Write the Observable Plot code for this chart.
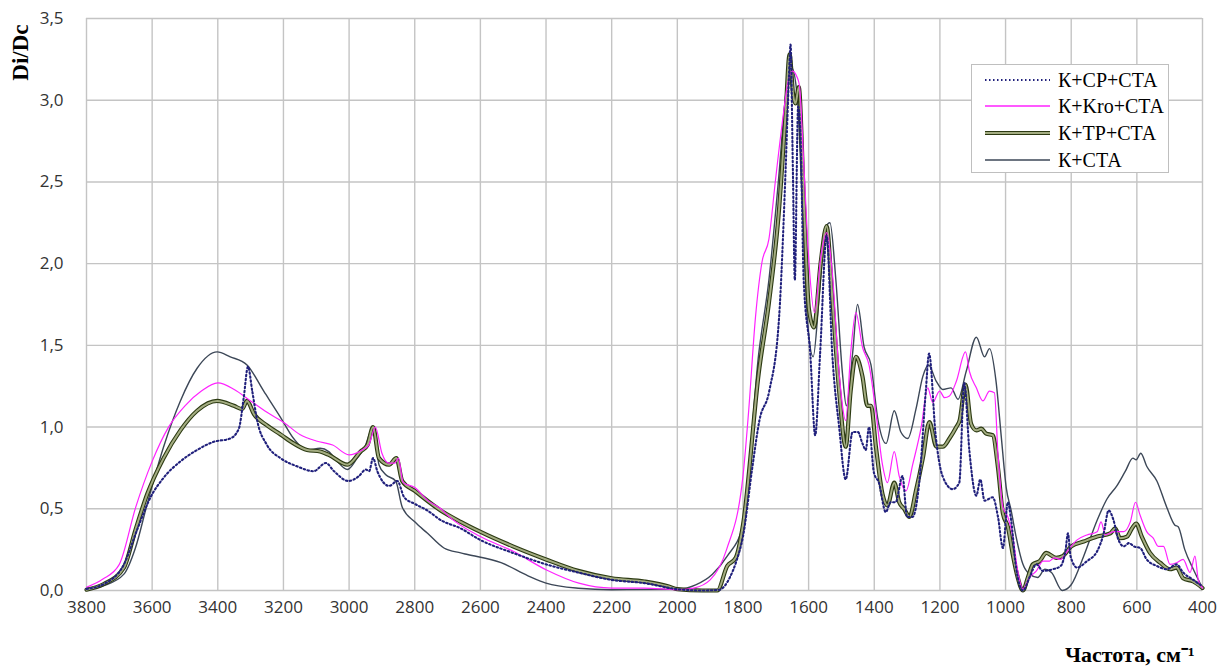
<!DOCTYPE html>
<html><head><meta charset="utf-8">
<script src="https://cdn.jsdelivr.net/npm/d3@7"></script>
<script src="https://cdn.jsdelivr.net/npm/@observablehq/plot@0.6"></script>
<style>
body{margin:0;background:#fff;}
#wrap{position:relative;width:1225px;height:668px;overflow:hidden;}
#legend{position:absolute;left:971px;top:64px;width:198px;height:109px;border:1px solid #bfbfbf;background:#fff;font-family:"Liberation Serif",serif;font-size:20px;color:#000;box-sizing:border-box;}
.row{position:absolute;left:0;height:26px;display:flex;align-items:center;}
.row svg{margin-left:12px;margin-right:7px;}
</style></head><body><div id="wrap"></div>
<script>
// ---- data (wavenumber, cm-1 / Di/Dc) ----
const seriesNames = ["К+СР+СТА", "К+Kro+СТА", "К+ТР+СТА", "К+СТА"];

const cpW = [3800,3747,3686,3646,3605,3565,3514,3463,3412,3362,3336,3321,3308,3295,3280,3250,3209,3159,3108,3071,3046,3002,2970,2949,2939,2927,2914,2878,2853,2832,2800,2762,2720,2660,2601,2501,2400,2302,2200,2100,2000,1924,1873,1840,1820,1800,1771,1750,1720,1690,1670,1660,1655,1648,1642,1632,1625,1615,1595,1580,1565,1545,1528,1507,1487,1466,1450,1436,1426,1416,1401,1386,1365,1350,1335,1314,1300,1284,1263,1243,1233,1213,1192,1161,1141,1126,1110,1089,1077,1064,1039,1023,1008,993,983,968,947,927,906,886,856,832,817,810,802,782,752,721,701,686,671,656,640,624,609,590,570,539,509,479,459,428,400];
const cpV = [0.01,0.04,0.16,0.37,0.57,0.69,0.79,0.86,0.91,0.93,0.99,1.18,1.37,1.22,1.04,0.89,0.81,0.76,0.73,0.78,0.73,0.67,0.70,0.74,0.73,0.81,0.73,0.64,0.67,0.57,0.53,0.49,0.43,0.38,0.31,0.23,0.16,0.11,0.065,0.045,0.008,0,0.004,0.08,0.18,0.33,0.76,1.04,1.22,1.67,2.58,3.14,3.34,2.58,1.9,2.96,2.8,1.9,1.45,0.95,1.45,2.17,1.45,1.0,0.68,0.97,0.97,0.90,0.86,1.0,0.72,0.66,0.48,0.54,0.54,0.70,0.45,0.45,0.66,1.22,1.45,0.95,0.70,0.62,0.66,1.27,0.85,0.58,0.68,0.55,0.57,0.45,0.26,0.54,0.43,0.14,0.0,0.08,0.16,0.12,0.13,0.15,0.25,0.35,0.21,0.14,0.18,0.24,0.35,0.49,0.43,0.31,0.27,0.29,0.27,0.26,0.19,0.15,0.13,0.16,0.11,0.065,0.025];

const kroW = [3800,3750,3700,3650,3600,3550,3500,3450,3400,3350,3300,3250,3200,3150,3100,3050,3000,2960,2940,2920,2900,2880,2860,2850,2835,2800,2760,2720,2700,2600,2500,2400,2300,2200,2100,2000,1950,1900,1850,1800,1783,1762,1742,1721,1701,1681,1662,1650,1635,1628,1614,1599,1582,1563,1545,1528,1507,1487,1472,1456,1436,1416,1395,1375,1360,1339,1324,1303,1283,1257,1237,1222,1201,1186,1171,1150,1122,1110,1089,1069,1049,1034,1023,1008,993,978,963,947,927,906,886,866,852,832,812,782,752,721,709,696,671,640,620,604,590,570,550,535,519,499,479,459,438,423,413,400];
const kroV = [0.02,0.07,0.16,0.51,0.79,1.0,1.13,1.22,1.27,1.23,1.16,1.09,1.03,0.955,0.915,0.89,0.83,0.86,0.89,1.0,0.84,0.78,0.78,0.81,0.66,0.63,0.55,0.50,0.46,0.33,0.24,0.127,0.045,0.015,0.015,0.005,0.015,0.065,0.25,0.70,1.09,1.67,2.01,2.15,2.51,2.85,3.12,3.18,3.14,3.09,2.58,2.01,1.70,2.04,2.19,1.95,1.33,1.04,1.45,1.70,1.49,1.38,1.09,0.77,0.66,0.85,0.70,0.61,0.77,1.0,1.24,1.15,1.22,1.18,1.19,1.28,1.46,1.34,1.24,1.16,1.22,1.21,0.83,0.51,0.45,0.33,0.12,0.01,0.08,0.12,0.18,0.18,0.2,0.19,0.24,0.31,0.34,0.36,0.42,0.34,0.36,0.36,0.42,0.54,0.46,0.36,0.32,0.27,0.27,0.16,0.17,0.19,0.11,0.21,0.065,0.015];

const tpW = [3800,3747,3686,3651,3615,3565,3514,3463,3402,3351,3326,3311,3290,3250,3209,3169,3128,3088,3062,3005,2965,2944,2927,2909,2878,2856,2838,2800,2721,2660,2601,2501,2400,2302,2200,2100,2026,2000,1924,1878,1848,1822,1800,1752,1721,1691,1670,1658,1647,1640,1630,1614,1599,1584,1563,1545,1528,1507,1487,1472,1456,1436,1421,1410,1395,1375,1360,1339,1324,1309,1293,1273,1252,1232,1211,1191,1171,1150,1140,1122,1105,1089,1074,1059,1039,1023,1008,993,978,963,947,932,917,896,876,846,826,800,762,721,681,666,651,630,615,602,585,560,529,499,479,459,428,400];
const tpV = [0.005,0.04,0.14,0.37,0.59,0.81,0.98,1.1,1.16,1.13,1.11,1.16,1.08,1.01,0.955,0.90,0.86,0.85,0.83,0.77,0.85,0.89,1.0,0.81,0.77,0.81,0.67,0.61,0.49,0.42,0.36,0.27,0.19,0.12,0.075,0.055,0.025,0.008,0,0,0.15,0.2,0.4,1.33,1.76,2.31,2.92,3.28,3.03,2.98,3.08,2.35,1.72,1.61,2.01,2.23,1.79,1.22,0.88,1.22,1.43,1.31,1.13,1.13,0.88,0.59,0.52,0.66,0.54,0.50,0.45,0.61,0.81,1.03,0.88,0.88,0.93,1.0,1.04,1.26,1.02,0.98,0.99,0.96,0.95,0.75,0.47,0.39,0.22,0.08,0,0.08,0.16,0.18,0.23,0.20,0.21,0.27,0.30,0.33,0.35,0.38,0.32,0.33,0.38,0.41,0.33,0.23,0.17,0.13,0.14,0.075,0.055,0.015];

const ctaW = [3800,3747,3686,3651,3615,3565,3514,3463,3402,3362,3311,3260,3209,3169,3128,3088,3062,3036,3005,2975,2954,2926,2909,2889,2858,2838,2800,2761,2711,2660,2639,2537,2455,2400,2302,2200,2000,1944,1893,1848,1800,1752,1721,1691,1670,1652,1635,1619,1604,1586,1568,1548,1535,1517,1497,1485,1466,1451,1431,1410,1390,1364,1339,1319,1298,1273,1252,1235,1211,1191,1166,1145,1120,1089,1064,1049,1029,1013,998,983,968,947,927,902,880,860,827,800,762,721,691,661,635,612,602,588,570,539,509,484,474,454,428,400];
const ctaV = [0.005,0.03,0.1,0.26,0.53,0.88,1.16,1.36,1.46,1.43,1.38,1.22,1.06,0.93,0.86,0.87,0.85,0.79,0.74,0.81,0.87,1.0,0.77,0.71,0.67,0.51,0.42,0.35,0.26,0.23,0.22,0.17,0.09,0.045,0.014,0.005,0.008,0.035,0.1,0.21,0.4,1.45,1.9,2.53,3.03,3.2,3.03,2.35,1.67,1.43,1.79,2.22,2.25,1.9,1.33,1.13,1.45,1.75,1.49,1.38,1.06,0.9,1.1,0.97,0.93,1.11,1.31,1.38,1.28,1.23,1.24,1.17,1.34,1.55,1.43,1.48,1.28,0.94,0.63,0.49,0.33,0.16,0.1,0.08,0.13,0.11,0.0,0.035,0.21,0.43,0.56,0.64,0.73,0.81,0.80,0.84,0.76,0.67,0.51,0.40,0.39,0.25,0.13,0.015];

const xTicks = [3800,3600,3400,3200,3000,2800,2600,2400,2200,2000,1800,1600,1400,1200,1000,800,600,400];
const yTicks = [0,0.5,1.0,1.5,2.0,2.5,3.0,3.5];

// ---- build ----
const rows = (w, v) => w.map((x, i) => ({w: x, v: v[i]}));
const fmt = d => d.toFixed(1).replace(".", ",");
const colors = {cp: "#20207c", kro: "#ff22ff", tpOuter: "#2c3a12", tpInner: "#a4ad82", cta: "#3c4757"};
const dots = "1.5,2.5";

const chart = Plot.plot({
  width: 1225, height: 668,
  marginLeft: 86, marginRight: 23, marginTop: 18, marginBottom: 78,
  style: {fontFamily: "'Open Sans', sans-serif", fontSize: "17px", color: "#333", background: "#fff"},
  x: {domain: [3800, 400], label: null},
  y: {domain: [0, 3.5], label: null},
  marks: [
    Plot.gridX(xTicks, {stroke: "#c4c4c4", strokeOpacity: 1, strokeWidth: 1.4}),
    Plot.gridY(yTicks, {stroke: "#c4c4c4", strokeOpacity: 1, strokeWidth: 1.4}),
    Plot.axisX(xTicks, {tickSize: 0, tickPadding: 10, tickFormat: d => String(d), fontSize: 17, fill: "#333"}),
    Plot.axisY(yTicks, {tickSize: 0, tickPadding: 23, tickFormat: fmt, fontSize: 17, fill: "#333"}),
    Plot.line(rows(ctaW, ctaV), {x: "w", y: "v", stroke: colors.cta, strokeWidth: 1.4, curve: "monotone-x"}),
    Plot.line(rows(tpW, tpV), {x: "w", y: "v", stroke: colors.tpOuter, strokeWidth: 4.2, curve: "monotone-x"}),
    Plot.line(rows(tpW, tpV), {x: "w", y: "v", stroke: colors.tpInner, strokeWidth: 2, curve: "monotone-x"}),
    Plot.line(rows(kroW, kroV), {x: "w", y: "v", stroke: colors.kro, strokeWidth: 1.2, curve: "monotone-x"}),
    Plot.line(rows(cpW, cpV), {x: "w", y: "v", stroke: colors.cp, strokeWidth: 2.1, strokeDasharray: dots, curve: "monotone-x"}),
    Plot.text(["Di/Dc"], {frameAnchor: "top-left", dx: -66, dy: 6, rotate: -90, textAnchor: "end", lineAnchor: "middle",
      fontWeight: "bold", fontFamily: "'Liberation Serif', serif", fontSize: 23, fill: "#000"}),
    Plot.text(["Частота, см⁻¹"], {frameAnchor: "bottom-right", dx: -8, dy: 64, textAnchor: "end", lineAnchor: "middle",
      fontWeight: "bold", fontFamily: "'Liberation Serif', serif", fontSize: 22, fill: "#000"})
  ]
});

const wrap = document.getElementById("wrap");
wrap.appendChild(chart);

// legend (inside plot area, upper right)
const legend = document.createElement("div");
legend.id = "legend";
const styles = [
  [{stroke: colors.cp, w: 2.2, dash: dots}],
  [{stroke: colors.kro, w: 1.3}],
  [{stroke: colors.tpOuter, w: 4.2}, {stroke: colors.tpInner, w: 2}],
  [{stroke: colors.cta, w: 1.6}]
];
const rowTops = [2, 28, 55, 82];
seriesNames.forEach((name, i) => {
  const r = document.createElement("div");
  r.className = "row";
  r.style.top = rowTops[i] + "px";
  const lines = styles[i].map(s => `<line x1="1" y1="7" x2="66" y2="7" stroke="${s.stroke}" stroke-width="${s.w}" ${s.dash ? `stroke-dasharray="${s.dash}"` : ""}/>`).join("");
  r.innerHTML = `<svg width="67" height="14">${lines}</svg><span>${name}</span>`;
  legend.appendChild(r);
});
wrap.appendChild(legend);
</script>
</body></html>
